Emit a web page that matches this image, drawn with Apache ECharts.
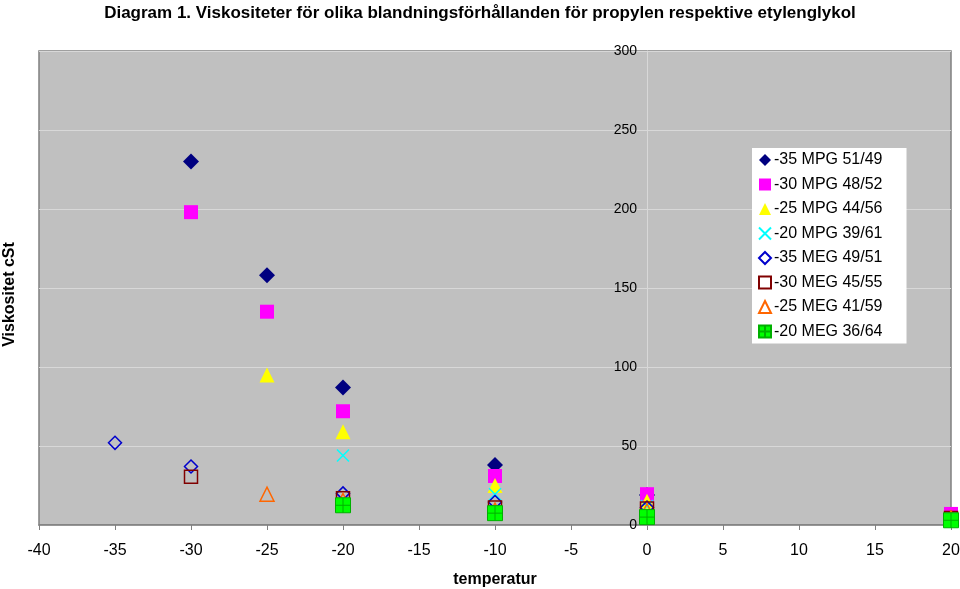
<!DOCTYPE html>
<html><head><meta charset="utf-8">
<script src="https://cdn.jsdelivr.net/npm/echarts@6/dist/echarts.min.js"></script>
<style>html,body{margin:0;padding:0;background:#fff}#c{width:960px;height:589px}</style>
</head><body><div id="c"></div>
<script>
// Data (temperature °C, viscosity cSt)
const mpg35_x = [-30, -25, -20, -10, 0];
const mpg35_y = [230, 158, 87, 38, 19];
const mpg30_x = [-30, -25, -20, -10, 0, 20];
const mpg30_y = [198, 135, 72, 31, 19.5, 7];
const mpg25_x = [-25, -20, -10, 0];
const mpg25_y = [95, 59, 25, 15];
const mpg20_x = [-20, -10, 0];
const mpg20_y = [44, 19.5, 12];
const meg35_x = [-35, -30, -20, -10, 0, 20];
const meg35_y = [52, 37, 20, 14.5, 11, 4.5];
const meg30_x = [-30, -20, -10, 0, 20];
const meg30_y = [30.5, 17, 11, 10.5, 4.5];
const meg25_x = [-25, -20, -10, 0, 20];
const meg25_y = [19.5, 15.5, 9.5, 9, 4.5];
const meg20_x = [-20, -10, 0, 20];
const meg20_y = [12.5, 7.5, 5, 3];
const names = ['-35 MPG 51/49','-30 MPG 48/52','-25 MPG 44/56','-20 MPG 39/61','-35 MEG 49/51','-30 MEG 45/55','-25 MEG 41/59','-20 MEG 36/64'];
const titleText = 'Diagram 1. Viskositeter för olika blandningsförhållanden för propylen respektive etylenglykol';

const pairs = (xs, ys) => xs.map((x, i) => [x, ys[i]]);
const FONT = 'Liberation Sans, Arial, sans-serif';
const xPath = 'path://M0,0L10,10M10,0L0,10';
const plusSq = 'path://M0,0H10V10H0ZM5,0V10M0,5H10';

const styles = [
  {symbol:'diamond', size:16, itemStyle:{color:'#000080'}},
  {symbol:'rect', size:14, itemStyle:{color:'#ff00ff'}},
  {symbol:'triangle', size:15, itemStyle:{color:'#ffff00'}},
  {symbol:xPath, size:12, itemStyle:{color:'rgba(0,0,0,0)', borderColor:'#00ffff', borderWidth:1.5}},
  {symbol:'diamond', size:13, itemStyle:{color:'rgba(0,0,0,0)', borderColor:'#0000cc', borderWidth:1.5}},
  {symbol:'rect', size:13, itemStyle:{color:'rgba(0,0,0,0)', borderColor:'#800000', borderWidth:1.5}},
  {symbol:'triangle', size:14, itemStyle:{color:'rgba(0,0,0,0)', borderColor:'#ff6600', borderWidth:1.5}},
  {symbol:plusSq, size:15, itemStyle:{color:'#00ff00', borderColor:'#00b000', borderWidth:1}}
];
const datas = [pairs(mpg35_x,mpg35_y),pairs(mpg30_x,mpg30_y),pairs(mpg25_x,mpg25_y),pairs(mpg20_x,mpg20_y),
  pairs(meg35_x,meg35_y),pairs(meg30_x,meg30_y),pairs(meg25_x,meg25_y),pairs(meg20_x,meg20_y)];

const chart = echarts.init(document.getElementById('c'), null, {renderer:'canvas'});
const GRID = {left:39, right:9, top:51, bottom:64};
chart.setOption({
  animation:false,
  backgroundColor:'#fff',
  textStyle:{fontFamily:FONT},
  title:{text:titleText, left:'center', top:0, textStyle:{fontSize:17, fontWeight:'bold', color:'#000', fontFamily:FONT}},
  grid:Object.assign({show:true, outerBoundsMode:'none', containLabel:false, backgroundColor:'#c0c0c0', borderColor:'#808080', borderWidth:1.5}, GRID),
  legend:{
    orient:'vertical', left:752, top:148, backgroundColor:'#fff', padding:[4,24,4,6],
    itemWidth:12, itemHeight:12, itemGap:8.5,
    textStyle:{fontSize:16, color:'#000', fontFamily:FONT, padding:[0,0,0,-2]},
    data:names
  },
  xAxis:{
    type:'value', min:-40, max:20, interval:5,
    name:'temperatur', nameLocation:'middle', nameGap:47,
    nameTextStyle:{fontSize:16, fontWeight:'bold', color:'#000', fontFamily:FONT},
    axisLine:{show:true, onZero:false, lineStyle:{color:'#808080', width:1.5}},
    axisTick:{show:true, length:5, lineStyle:{color:'#808080'}},
    axisLabel:{fontSize:16, color:'#000', margin:18, fontFamily:FONT},
    splitLine:{show:false}
  },
  yAxis:{
    type:'value', min:0, max:300, interval:50, position:'left',
    offset: -((0 - (-40)) / 60 * (960 - GRID.left - GRID.right)),
    axisLine:{show:true, onZero:false, lineStyle:{color:'#d8d8d8', width:1}},
    axisTick:{show:false},
    axisLabel:{fontSize:14, color:'#000', margin:10, fontFamily:FONT},
    splitLine:{show:true, lineStyle:{color:'#d8d8d8', width:1}}
  },
  graphic:[{type:'text', left:2, top:'center', rotation:Math.PI/2,
    style:{text:'Viskositet cSt', font:'bold 16px '+FONT, fill:'#000'}}],
  series: datas.map((d,i)=>({
    type:'scatter', name:names[i], data:d,
    symbol:styles[i].symbol, symbolSize:styles[i].size,
    itemStyle:Object.assign({opacity:1}, styles[i].itemStyle)
  }))
});
</script></body></html>
